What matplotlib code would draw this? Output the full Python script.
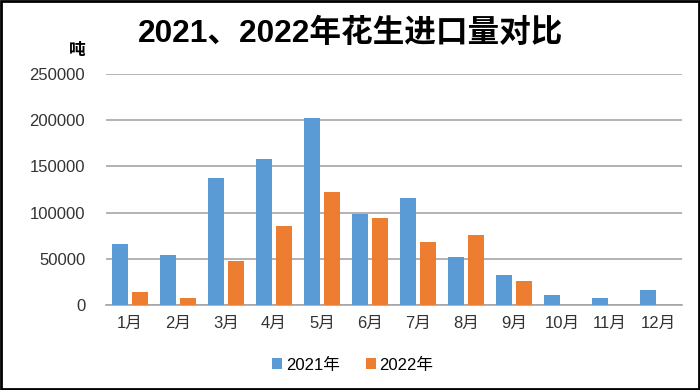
import matplotlib.pyplot as plt
import numpy as np

plt.rcParams['font.family'] = ['Liberation Sans', 'Noto Sans CJK SC', 'DejaVu Sans']

# 数据
months = ["1月", "2月", "3月", "4月", "5月", "6月", "7月", "8月", "9月", "10月", "11月", "12月"]
vals_2021 = [65700, 53800, 137400, 158300, 202700, 98100, 115800, 52300, 32000, 10400, 7900, 16500]
vals_2022 = [13700, 7600, 48000, 85500, 122000, 93800, 68500, 76100, 26000, np.nan, np.nan, np.nan]
yticks = [0, 50000, 100000, 150000, 200000, 250000]

fig = plt.figure(figsize=(7, 3.9), dpi=100)
ax = fig.add_axes([106 / 700, 1 - 305 / 390, 576 / 700, 231 / 390])

x = np.arange(len(months))
w = 0.34
ax.bar(x - 0.21, vals_2021, width=w, color="#5B9BD5", label="2021年", zorder=3)
ax.bar(x + 0.21, vals_2022, width=w, color="#ED7D31", label="2022年", zorder=3)

ax.set_xlim(-0.5, len(months) - 0.5)
ax.set_ylim(0, 250000)
ax.set_yticks(yticks)
ax.set_yticklabels([str(v) for v in yticks], fontsize=12, color="#333333")
ax.set_xticks(x)
ax.set_xticklabels(months, fontsize=12, color="#333333")
ax.tick_params(axis="both", length=0)
ax.tick_params(axis="y", pad=15)
ax.tick_params(axis="x", pad=8)
ax.grid(axis="y", color="#A6A6A6", linewidth=1.2, zorder=0)
for s in ["top", "right", "left"]:
    ax.spines[s].set_visible(False)
ax.spines["bottom"].set_color("#A6A6A6")
ax.spines["bottom"].set_linewidth(1.2)

fig.text(351 / 700, 1 - 34 / 390, "2021、2022年花生进口量对比", fontsize=22.8,
         fontweight="bold", ha="center", va="center")
fig.text(77 / 700, 1 - 50 / 390, "吨", fontsize=12, fontweight="bold",
         ha="center", va="center")

fig.legend(loc="center", bbox_to_anchor=(353 / 700, 1 - 365 / 390), ncol=2,
           frameon=False, fontsize=12, handlelength=0.6, handleheight=0.6,
           handletextpad=0.2, columnspacing=1.6)

# 外框
fig.patches.append(plt.Rectangle((0.002, 0.003), 0.996, 0.994, transform=fig.transFigure,
                                 fill=False, edgecolor="black", linewidth=2))

fig.savefig("out.png", dpi=100)
